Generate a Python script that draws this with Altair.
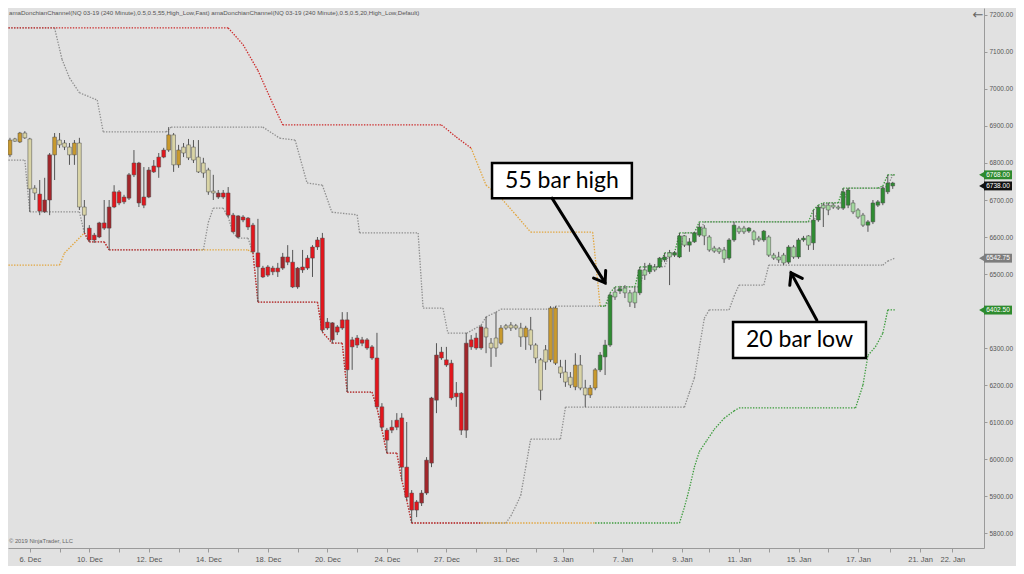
import altair as alt
import pandas as pd

# ---------------- candle data (NQ 03-19, 240 minute bars) ----------------
opens = [
    6889, 6822, 6859, 6857, 6881, 6865, 6732, 6716, 6668, 6700,
    6822, 6862, 6854, 6822, 6854, 6854, 6681, 6592, 6592, 6600,
    6624, 6624, 6722, 6722, 6695, 6705, 6800, 6800, 6686, 6708,
    6776, 6789, 6816, 6835, 6876, 6795, 6843, 6814, 6843, 6816,
    6800, 6781, 6724, 6719, 6708, 6719, 6659, 6657, 6646, 6651,
    6632, 6557, 6516, 6497, 6516, 6506, 6516, 6546, 6532, 6465,
    6519, 6516, 6543, 6573, 6597, 6370, 6368, 6343, 6354, 6376,
    6303, 6327, 6313, 6322, 6303, 6273, 6141, 6078, 6078, 6086,
    6111, 5978, 5908, 5862, 5881, 5908, 5989, 6159, 6289, 6268,
    6259, 6178, 6178, 6078, 6322, 6300, 6300, 6354, 6313, 6300,
    6313, 6354, 6362, 6354, 6354, 6330, 6349, 6308, 6268, 6262,
    6268, 6408, 6249, 6235, 6221, 6195, 6254, 6192, 6173, 6192,
    6241, 6276, 6308, 6438, 6454, 6462, 6449, 6422, 6449, 6511,
    6506, 6511, 6519, 6538, 6546, 6551, 6546, 6603, 6587, 6587,
    6605, 6624, 6600, 6570, 6568, 6565, 6543, 6592, 6614, 6624,
    6616, 6614, 6597, 6592, 6600, 6551, 6546, 6530, 6532, 6573,
    6546, 6592, 6603, 6584, 6646, 6686, 6686, 6681, 6681, 6678,
    6686, 6692, 6673, 6659, 6632, 6641, 6686, 6692, 6722, 6746,
]
highs = [
    6922, 6868, 6868, 6884, 6886, 6868, 6740, 6754, 6760, 6827,
    6881, 6881, 6862, 6854, 6862, 6868, 6700, 6632, 6611, 6641,
    6700, 6700, 6740, 6727, 6714, 6773, 6835, 6803, 6789, 6789,
    6808, 6827, 6841, 6897, 6881, 6849, 6854, 6865, 6862, 6862,
    6814, 6787, 6768, 6727, 6727, 6735, 6665, 6659, 6659, 6654,
    6638, 6649, 6522, 6524, 6522, 6530, 6557, 6578, 6565, 6519,
    6565, 6551, 6578, 6600, 6611, 6381, 6370, 6362, 6397, 6397,
    6330, 6335, 6330, 6327, 6308, 6341, 6151, 6084, 6105, 6124,
    6124, 6100, 5916, 5889, 5916, 6005, 6168, 6313, 6303, 6303,
    6268, 6208, 6181, 6341, 6335, 6341, 6362, 6384, 6327, 6397,
    6362, 6365, 6370, 6365, 6368, 6360, 6384, 6313, 6273, 6308,
    6413, 6413, 6268, 6268, 6235, 6286, 6281, 6214, 6200, 6246,
    6289, 6322, 6449, 6465, 6468, 6470, 6457, 6465, 6519, 6530,
    6530, 6527, 6546, 6557, 6565, 6562, 6611, 6605, 6597, 6614,
    6638, 6632, 6605, 6576, 6573, 6573, 6597, 6641, 6630, 6630,
    6627, 6619, 6603, 6619, 6605, 6557, 6560, 6557, 6578, 6578,
    6597, 6603, 6605, 6673, 6686, 6692, 6692, 6692, 6686, 6732,
    6732, 6700, 6678, 6665, 6646, 6700, 6700, 6738, 6768, 6749,
]
lows = [
    6811, 6816, 6857, 6854, 6865, 6668, 6700, 6659, 6665, 6659,
    6754, 6841, 6835, 6795, 6795, 6673, 6611, 6587, 6584, 6597,
    6619, 6565, 6678, 6686, 6689, 6700, 6762, 6681, 6678, 6705,
    6773, 6760, 6813, 6830, 6776, 6787, 6816, 6808, 6800, 6773,
    6760, 6714, 6700, 6703, 6703, 6654, 6611, 6597, 6640, 6619,
    6557, 6424, 6489, 6492, 6497, 6492, 6511, 6524, 6462, 6460,
    6503, 6511, 6492, 6565, 6343, 6349, 6313, 6335, 6349, 6181,
    6241, 6300, 6305, 6295, 6268, 6138, 6078, 6016, 6070, 6078,
    5943, 5889, 5827, 5843, 5873, 5903, 5978, 6124, 6268, 6249,
    6159, 6141, 6065, 6057, 6295, 6295, 6295, 6286, 6249, 6276,
    6308, 6349, 6346, 6349, 6303, 6295, 6295, 6259, 6159, 6241,
    6262, 6254, 6219, 6195, 6192, 6186, 6186, 6140, 6165, 6186,
    6235, 6227, 6303, 6430, 6446, 6435, 6411, 6408, 6443, 6484,
    6500, 6506, 6516, 6532, 6470, 6546, 6543, 6573, 6560, 6584,
    6600, 6578, 6560, 6557, 6554, 6530, 6538, 6587, 6608, 6608,
    6611, 6578, 6587, 6587, 6546, 6538, 6530, 6524, 6527, 6541,
    6541, 6587, 6565, 6565, 6641, 6627, 6659, 6676, 6673, 6673,
    6678, 6662, 6649, 6627, 6614, 6635, 6681, 6686, 6716, 6730,
]
closes = [
    6827, 6862, 6865, 6881, 6868, 6730, 6719, 6670, 6700, 6822,
    6870, 6849, 6843, 6843, 6822, 6681, 6659, 6624, 6605, 6638,
    6638, 6681, 6681, 6692, 6708, 6768, 6768, 6692, 6708, 6781,
    6792, 6816, 6835, 6876, 6795, 6835, 6827, 6849, 6808, 6776,
    6773, 6722, 6719, 6708, 6719, 6659, 6614, 6600, 6654, 6627,
    6560, 6519, 6492, 6519, 6506, 6516, 6546, 6532, 6465, 6516,
    6511, 6543, 6573, 6592, 6349, 6354, 6322, 6357, 6376, 6241,
    6322, 6308, 6322, 6300, 6273, 6141, 6086, 6051, 6086, 6105,
    5978, 5897, 5862, 5884, 5908, 5997, 6165, 6281, 6273, 6254,
    6165, 6168, 6078, 6313, 6303, 6327, 6357, 6330, 6300, 6327,
    6354, 6360, 6354, 6360, 6330, 6354, 6308, 6273, 6186, 6295,
    6408, 6259, 6232, 6208, 6200, 6254, 6192, 6173, 6192, 6241,
    6281, 6308, 6443, 6451, 6460, 6449, 6424, 6451, 6511, 6497,
    6524, 6519, 6543, 6546, 6557, 6557, 6603, 6578, 6578, 6611,
    6627, 6603, 6565, 6562, 6560, 6541, 6592, 6632, 6624, 6614,
    6624, 6592, 6592, 6616, 6551, 6543, 6538, 6551, 6573, 6546,
    6592, 6597, 6578, 6646, 6681, 6678, 6673, 6686, 6678, 6722,
    6727, 6668, 6654, 6632, 6641, 6692, 6695, 6732, 6746, 6738,
]
# bar paint state: K khaki, O gold, R red, r dark red, G green, g light green
candle_code_rows = [
    "KOKOKKKRrr", "OKKKOKKRRr", "RrRRRrRrRr", "RRROKOKKKK", "KKKrRRRrRR",
    "RRRRRRrRRr", "RRRRRRrRRR", "RRRRRRRRRR", "RRRRrrrrRR", "RRRrRRrKKK",
    "OKKKKOKKKK", "OOKKKOKKOO", "GGGgGgggGg", "GgGGgGGgGG", "GgggggGGgg",
    "GggGggggGg", "GGgGGggggG", "GgggGGGGGG",
]
candle_codes = list("".join(candle_code_rows))
n_bars = len(opens)

# ---------------- Donchian channels (vertices) ----------------
u55_i = [-1, 45, 48, 51, 54, 56, 88, 91, 94, 97, 99.5, 103, 106, 118.5, 120, 121, 122, 123,
         127, 128, 132, 133, 135, 136, 139, 140, 162, 163, 164, 165, 168, 169, 176, 177, 178, 179.5]
u55_p = [7165, 7165, 7120, 7050, 6960, 6903, 6903, 6870, 6840, 6740, 6713, 6660, 6613, 6613, 6413, 6413, 6449, 6465,
         6465, 6519, 6519, 6557, 6557, 6611, 6611, 6641, 6641, 6673, 6686, 6692, 6692, 6732, 6732, 6738, 6768, 6768]
u55_state = "R" * 8 + "O" * 6 + "G" * 22

l55_i = [-1, 11, 12, 16, 17, 20, 21, 39, 49, 50, 51, 63, 64, 66, 68, 69, 74, 75, 76, 77, 79, 80, 81, 82,
         96, 119, 136, 137, 138, 139, 140, 141.5, 143, 145, 147, 148, 171.5, 173, 174, 175.5, 177, 178, 179.5]
l55_p = [6524, 6524, 6557, 6611, 6587, 6587, 6565, 6565, 6565, 6557, 6424, 6424, 6343, 6313, 6313, 6181, 6181, 6138,
         6079, 6016, 6016, 5943, 5889, 5827, 5827, 5827, 5827, 5870, 5920, 5978, 6020, 6050, 6080, 6110, 6130, 6138,
         6138, 6200, 6280, 6303, 6340, 6403, 6403]
l55_state = "OOO" + "RRRR" + "OO" + "R" * 15 + "O" + "G" * 18

u20_i = [-1, 10, 11.5, 13, 15, 18.6, 19.8, 32.5, 33.5, 52, 55.4, 58.5, 60.9, 64, 65.9, 71, 71.5, 83.3, 84.3,
         88.3, 89.3, 93.1, 96, 97, 99, 100, 110, 111, 121, 123, 124, 128, 129, 133, 134, 136, 137, 140, 141,
         163, 164, 165, 166, 169, 170, 177, 178, 179, 179.5]
u20_p = [7165, 7165, 7080, 7030, 6990, 6970, 6884, 6884, 6897, 6897, 6867, 6862, 6746, 6740, 6667, 6660, 6611, 6611,
         6408, 6408, 6340, 6340, 6362, 6384, 6397, 6405, 6405, 6413, 6413, 6449, 6465, 6465, 6519, 6519, 6557, 6557,
         6611, 6611, 6641, 6641, 6673, 6686, 6692, 6692, 6732, 6732, 6738, 6768, 6768]

l20_i = [-1, 4, 5, 15, 16, 17, 20, 21, 40, 41, 42, 44, 45, 46, 47, 49, 50, 51, 63, 64, 66, 68, 69, 74, 75, 76,
         77, 79, 80, 81, 82, 101, 102, 103, 104, 105, 106, 112, 113, 137, 138, 139, 140, 141, 142, 146, 147, 148,
         153, 154, 177, 178, 179.5]
l20_p = [6808, 6808, 6668, 6668, 6611, 6587, 6587, 6565, 6565, 6640, 6678, 6678, 6654, 6611, 6597, 6597, 6557, 6424,
         6424, 6343, 6313, 6313, 6181, 6181, 6138, 6079, 6016, 6016, 5943, 5889, 5827, 5827, 5846, 5873, 5902, 5978,
         6054, 6054, 6140, 6140, 6180, 6219, 6300, 6380, 6403, 6403, 6440, 6470, 6470, 6524, 6524, 6535, 6543]

# ---------------- axis labels ----------------
tick_pos = [5, 17, 29, 41, 53, 65, 77, 89, 101, 112.5, 124.5, 136.5, 148, 160, 172, 184.5, 191]
tick_text = ["6. Dec", "10. Dec", "12. Dec", "14. Dec", "18. Dec", "20. Dec", "24. Dec", "27. Dec", "31. Dec",
             "3. Jan", "7. Jan", "9. Jan", "11. Jan", "15. Jan", "17. Jan", "21. Jan", "22. Jan"]
minor_pos = [11, 23, 35, 47, 59, 71, 83, 95, 107, 118.5, 130.5, 142, 154, 166, 178.5]
price_ticks = list(range(5800, 7201, 100))
hidden_price_labels = [6400]  # covered by the 6402.50 price marker

flag_vals = [6768.00, 6738.00, 6542.75, 6402.50]
flag_cols = ["#2e8b2e", "#111111", "#7d7d7d", "#2e8b2e"]

header = ("amaDonchianChannel(NQ 03-19 (240 Minute),0.5,0.5,55,High_Low,Fast)   "
          "amaDonchianChannel(NQ 03-19 (240 Minute),0.5,0.5,20,High_Low,Default)")

# ---------------- styling ----------------
candle_palette = {"K": "#d9d4a6", "O": "#c99a2e", "R": "#e3161d", "r": "#a2262b",
                  "G": "#2f8c32", "g": "#a3d89e"}
line_palette = {"R": "#cc2a2a", "O": "#e2a53c", "G": "#3b9b3b", "X": "#8e8e8e"}

xs = alt.Scale(domain=[0.605, 197.4], nice=False, zero=False)
ys = alt.Scale(domain=[5759.5, 7218.9], nice=False, zero=False)

m = min(n_bars, len(highs), len(lows), len(closes), len(candle_codes))
df = pd.DataFrame(dict(i=list(range(m)), o=opens[:m], h=highs[:m], l=lows[:m], c=closes[:m],
                       code=candle_codes[:m]))
df["x0"] = df["i"] - 0.38
df["x1"] = df["i"] + 0.38
df["fill"] = df["code"].map(candle_palette).fillna("#a3d89e")


def segments(px, py, states):
    rows = []
    n = min(len(px), len(py))
    for k in range(n - 1):
        s = states[k] if k < len(states) else states[-1]
        rows.append(dict(x=px[k], x2=px[k + 1], y=py[k], y2=py[k + 1], col=line_palette[s]))
    return pd.DataFrame(rows)


gray_df = pd.concat([segments(u20_i, u20_p, "X"), segments(l20_i, l20_p, "X")])
col_df = pd.concat([segments(u55_i, u55_p, u55_state), segments(l55_i, l55_p, l55_state)])

label_expr = "".join(f"datum.value == {p} ? '{t}' : " for p, t in zip(tick_pos, tick_text)) + "''"
y_label_expr = "".join(f"datum.value == {v} ? '' : " for v in hidden_price_labels) + "format(datum.value, '.2f')"

x_axis = alt.Axis(values=sorted(tick_pos + minor_pos), labelExpr=label_expr, title=None, grid=False,
                  tickSize=4, tickColor="#9a9a9a", domainColor="#9a9a9a", labelColor="#555555",
                  labelFontSize=7.5, labelFont="Liberation Sans", labelOverlap=False, labelFlush=False,
                  labelPadding=3)
y_axis = alt.Axis(orient="right", values=price_ticks, labelExpr=y_label_expr, title=None, grid=False,
                  tickSize=3, tickColor="#9a9a9a", domainColor="#9a9a9a", labelColor="#555555",
                  labelFontSize=6.5, labelFont="Liberation Sans", labelPadding=2, labelOverlap=False)


def X(field):
    return alt.X(field, type="quantitative", scale=xs, axis=x_axis)


def Y(field):
    return alt.Y(field, type="quantitative", scale=ys, axis=y_axis)


base = alt.Chart(df)
wicks = base.mark_rule(color="#555555", strokeWidth=1, clip=True).encode(
    x=X("i"), y=Y("l"), y2="h:Q",
)
bodies = base.mark_rect(stroke="#4a4a4a", strokeWidth=0.5, clip=True).encode(
    x=X("x0"), x2="x1:Q", y=Y("o"), y2="c:Q",
    fill=alt.Fill("fill:N", scale=None),
)


def channel_layer(d):
    return alt.Chart(d).mark_rule(strokeWidth=1.3, strokeDash=[1.4, 1.4], clip=True).encode(
        x=X("x"), x2="x2:Q", y=Y("y"), y2="y2:Q",
        color=alt.Color("col:N", scale=None),
    )


gray_lines = channel_layer(gray_df)
color_lines = channel_layer(col_df)

# annotations (anchored in data space)
boxes = pd.DataFrame(dict(x=[98.2, 146.8], x2=[126.4, 173.6], y=[6800, 6370], y2=[6705, 6273],
                          tx=[112.3, 160.2], ty=[6752, 6321], t=["55 bar high", "20 bar low"]))
box_rect = alt.Chart(boxes).mark_rect(fill="white", stroke="black", strokeWidth=2.5).encode(
    x=X("x"), x2="x2:Q", y=Y("y"), y2="y2:Q",
)
box_text = alt.Chart(boxes).mark_text(font="Lato", fontSize=23, color="black").encode(
    x=X("tx"), y=Y("ty"), text="t:N",
)
arrows = pd.DataFrame(dict(x=[110.3, 163.7], y=[6705, 6375], x2=[121.0, 158.5], y2=[6476, 6503],
                           ang=[147.7, 331.0]))
arrow_lines = alt.Chart(arrows).mark_rule(color="black", strokeWidth=3, strokeCap="round").encode(
    x=X("x"), x2="x2:Q", y=Y("y"), y2="y2:Q",
)
arrow_heads = alt.Chart(arrows).mark_point(shape="M-0.7,1L0,0L0.7,1", filled=False, color="black",
                                           strokeWidth=3, size=420, opacity=1, strokeCap="round").encode(
    x=X("x2"), y=Y("y2"),
    angle=alt.Angle("ang:Q", scale=None),
)

# price flags on the right axis
flags = pd.DataFrame(dict(v=flag_vals, col=flag_cols, t=[f"{v:.2f}" for v in flag_vals]))
flags["v1"] = flags["v"] + 12
flags["v2"] = flags["v"] - 12
flag_rect = alt.Chart(flags).mark_rect().encode(
    x=alt.value(976), x2=alt.value(1004),
    y=Y("v1"), y2="v2:Q",
    fill=alt.Fill("col:N", scale=None),
)
flag_tip = alt.Chart(flags).mark_point(shape="triangle-left", filled=True, size=45, opacity=1).encode(
    x=alt.value(974), y=Y("v"),
    fill=alt.Fill("col:N", scale=None), color=alt.Color("col:N", scale=None),
)
flag_text = alt.Chart(flags).mark_text(fontSize=6.5, font="Liberation Sans", color="white").encode(
    x=alt.value(990), y=Y("v"), text="t:N",
)

header_text = alt.Chart(pd.DataFrame(dict(t=[header]))).mark_text(
    fontSize=6.2, font="Liberation Sans", color="#555555", align="left", baseline="top").encode(
    x=alt.value(1), y=alt.value(2), text="t:N")
copy_text = alt.Chart(pd.DataFrame(dict(t=["\u00a9 2019 NinjaTrader, LLC"]))).mark_text(
    fontSize=5.8, font="Liberation Sans", color="#666666", align="left").encode(
    x=alt.value(1), y=alt.value(533), text="t:N")
back_arrow = alt.Chart(pd.DataFrame(dict(t=["\u2190"]))).mark_text(
    fontSize=13, font="DejaVu Sans", color="#666666").encode(
    x=alt.value(970), y=alt.value(7), text="t:N")

chart = alt.layer(
    gray_lines, color_lines, wicks, bodies,
    box_rect, box_text, arrow_lines, arrow_heads,
    flag_rect, flag_tip, flag_text,
    header_text, copy_text, back_arrow,
).properties(
    width=976, height=540,
    padding={"left": 0, "top": 0, "right": 32, "bottom": 18},
    autosize=alt.AutoSizeParams(type="none"),
    background="#e1e1e1",
).configure_view(stroke=None)

chart.save("out.html", embed_options={"renderer": "svg", "actions": False})
